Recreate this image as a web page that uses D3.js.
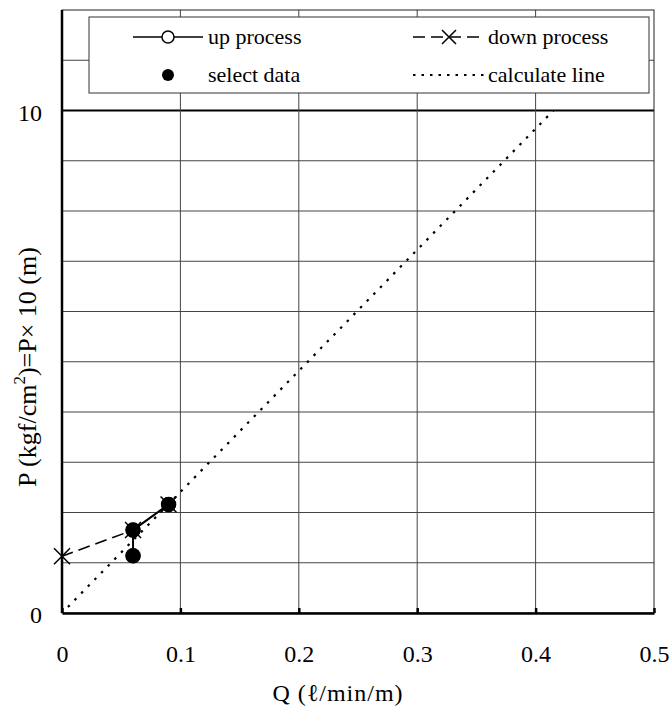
<!DOCTYPE html>
<html>
<head>
<meta charset="utf-8">
<script src="https://cdn.jsdelivr.net/npm/d3@7"></script>
<style>
  body { margin: 0; background: #fff; }
  svg text { font-family: "Liberation Serif", "Times New Roman", Times, serif !important; fill: #000; }
</style>
</head>
<body>
<div id="chart"></div>
<script>
// data
const upProcess = [
    { q: 0.06, p: 1.14 },
    { q: 0.06, p: 1.65 },
    { q: 0.09, p: 2.16 }
];
const downProcess = [
    { q: 0.09, p: 2.16 },
    { q: 0.06, p: 1.65 },
    { q: 0.0, p: 1.13 }
];
const selectData = [
    { q: 0.06, p: 1.14 },
    { q: 0.06, p: 1.65 },
    { q: 0.09, p: 2.16 }
];
const calcLine = [
    { q: 0.005, p: 0.12 },
    { q: 0.415, p: 10 }
];
const xTicks = [0, 0.1, 0.2, 0.3, 0.4, 0.5];
const yLabels = [0, 10];

const width = 669, height = 708;
const margin = { top: 10, right: 15, bottom: 95, left: 62 };
const serif = '"Liberation Serif", "Times New Roman", Times, serif';

const svg = d3.select("#chart").append("svg")
    .attr("width", width)
    .attr("height", height)
    .attr("font-family", serif);

const x = d3.scaleLinear().domain([0, 0.5]).range([margin.left, width - margin.right]);
const y = d3.scaleLinear().domain([0, 12]).range([height - margin.bottom, margin.top]);

// grid
const grid = svg.append("g");
grid.selectAll("line.h")
    .data(d3.range(1, 12))
    .enter().append("line")
    .attr("x1", x(0)).attr("x2", x(0.5))
    .attr("y1", d => y(d)).attr("y2", d => y(d))
    .attr("stroke", d => d === 10 ? "#000" : "#444")
    .attr("stroke-width", d => d === 10 ? 2 : 1);
grid.selectAll("line.v")
    .data(xTicks.slice(1, -1))
    .enter().append("line")
    .attr("x1", d => x(d)).attr("x2", d => x(d))
    .attr("y1", y(0)).attr("y2", y(12))
    .attr("stroke", "#444")
    .attr("stroke-width", 1);

// frame
svg.append("rect")
    .attr("x", x(0)).attr("y", y(12))
    .attr("width", x(0.5) - x(0)).attr("height", y(0) - y(12))
    .attr("fill", "none").attr("stroke", "#222").attr("stroke-width", 1);

// bottom axis with inner ticks
const xAxis = svg.append("g")
    .attr("transform", `translate(0,${y(0)})`)
    .call(d3.axisBottom(x).tickValues(xTicks).tickSizeInner(-5).tickSizeOuter(0).tickFormat(d3.format("")));
xAxis.attr("font-family", serif);
xAxis.select(".domain").attr("stroke-width", 2.5);
xAxis.selectAll(".tick line").attr("stroke-width", 2.5);
xAxis.selectAll(".tick text")
    .attr("font-size", 24)
    .attr("y", 49).attr("dy", 0);

// left axis line
svg.append("line")
    .attr("x1", x(0)).attr("x2", x(0))
    .attr("y1", y(0)).attr("y2", y(12))
    .attr("stroke", "#000").attr("stroke-width", 2.5);

svg.selectAll("text.ylab")
    .data(yLabels)
    .enter().append("text")
    .attr("class", "ylab")
    .attr("x", x(0) - 20)
    .attr("y", d => y(d) + 10)
    .attr("text-anchor", "end")
    .attr("font-size", 24)
    .text(d => d);

// axis titles
svg.append("text")
    .attr("x", 338)
    .attr("y", 701)
    .attr("text-anchor", "middle")
    .attr("font-size", 24)
    .attr("letter-spacing", 1)
    .text("Q (ℓ/min/m)");

const yt = svg.append("text")
    .attr("transform", "translate(36,367) rotate(-90)")
    .attr("text-anchor", "middle")
    .attr("font-size", 26);
yt.append("tspan").text("P (kgf/cm");
yt.append("tspan").attr("font-size", 17).attr("dy", -11).text("2");
yt.append("tspan").attr("dy", 11).text(")=P× 10 (m)");

const line = d3.line().x(d => x(d.q)).y(d => y(d.p));

// calculate line
svg.append("path")
    .attr("d", line(calcLine))
    .attr("fill", "none").attr("stroke", "#000")
    .attr("stroke-width", 2.2).attr("stroke-dasharray", "2.5,7");

// down process
svg.append("path")
    .attr("d", line(downProcess))
    .attr("fill", "none").attr("stroke", "#000")
    .attr("stroke-width", 1.5).attr("stroke-dasharray", "12,6");

function cross(g, cx, cy, s) {
    g.append("path")
        .attr("d", `M${cx - s},${cy - s}L${cx + s},${cy + s}M${cx - s},${cy + s}L${cx + s},${cy - s}`)
        .attr("stroke", "#000").attr("stroke-width", 1.5).attr("fill", "none");
}
const marks = svg.append("g");
downProcess.forEach(d => cross(marks, x(d.q), y(d.p), 8));

// up process
svg.append("path")
    .attr("d", line(upProcess))
    .attr("fill", "none").attr("stroke", "#000").attr("stroke-width", 2);
svg.selectAll("circle.up")
    .data(upProcess)
    .enter().append("circle")
    .attr("cx", d => x(d.q)).attr("cy", d => y(d.p)).attr("r", 7)
    .attr("fill", "#fff").attr("stroke", "#000").attr("stroke-width", 1.5);

// select data
svg.selectAll("circle.sel")
    .data(selectData)
    .enter().append("circle")
    .attr("cx", d => x(d.q)).attr("cy", d => y(d.p)).attr("r", 7.5)
    .attr("fill", "#000");

// legend
const lg = svg.append("g").attr("font-size", 22);
lg.append("rect")
    .attr("x", 89).attr("y", 17).attr("width", 560).attr("height", 76)
    .attr("fill", "#fff").attr("stroke", "#333").attr("stroke-width", 1);

lg.append("line").attr("x1", 133).attr("x2", 203).attr("y1", 37).attr("y2", 37)
    .attr("stroke", "#000").attr("stroke-width", 1.5);
lg.append("circle").attr("cx", 168).attr("cy", 37).attr("r", 6)
    .attr("fill", "#fff").attr("stroke", "#000").attr("stroke-width", 1.5);
lg.append("text").attr("x", 208).attr("y", 44).text("up process");

lg.append("circle").attr("cx", 168).attr("cy", 75).attr("r", 6).attr("fill", "#000");
lg.append("text").attr("x", 208).attr("y", 82).text("select data");

lg.append("line").attr("x1", 413).attr("x2", 485).attr("y1", 37).attr("y2", 37)
    .attr("stroke", "#000").attr("stroke-width", 1.5).attr("stroke-dasharray", "12,6");
cross(lg, 449, 37, 7);
lg.append("text").attr("x", 488).attr("y", 44).text("down process");

lg.append("line").attr("x1", 413).attr("x2", 485).attr("y1", 75).attr("y2", 75)
    .attr("stroke", "#000").attr("stroke-width", 2).attr("stroke-dasharray", "2.5,6");
lg.append("text").attr("x", 488).attr("y", 82).text("calculate line");
</script>
</body>
</html>
